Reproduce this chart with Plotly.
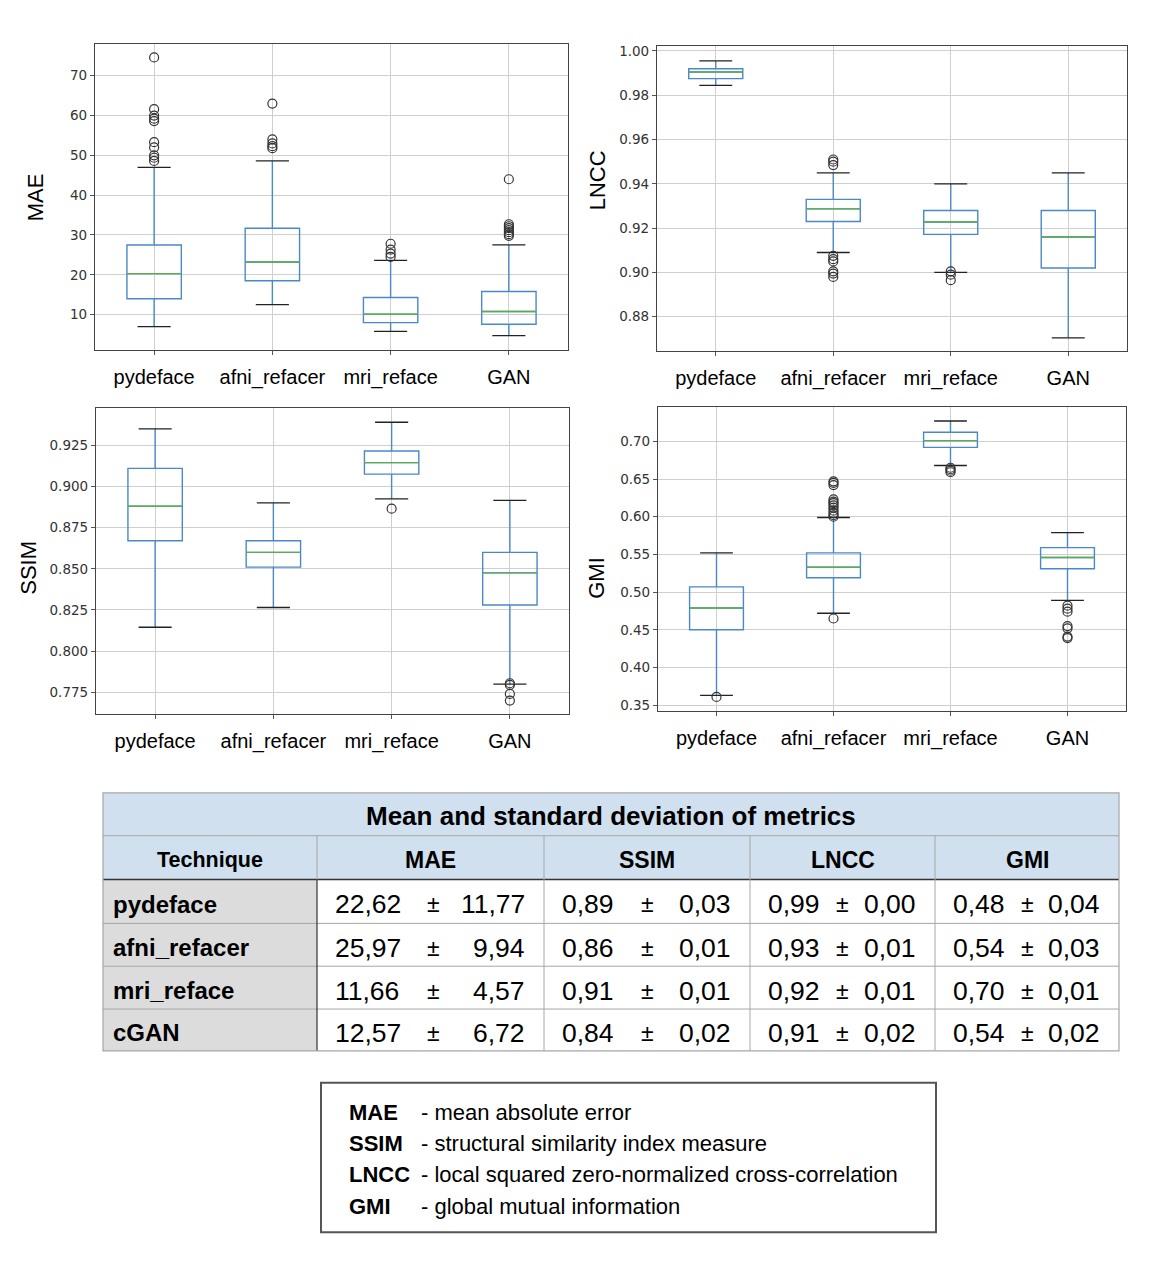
import plotly.graph_objects as go

# page geometry (reference pixel frame); the browser page has an 8px body margin
REF_W, REF_H = 1170, 1274
OFF = 8
W, H = REF_W - OFF, REF_H - OFF

# ---------------- data ----------------
techniques = ["pydeface", "afni_refacer", "mri_reface", "GAN"]
positions = [1, 2, 3, 4]

mae_low = [7.0, 12.5, 5.8, 4.7]
mae_q1 = [14.0, 18.5, 8.0, 7.6]
mae_med = [20.3, 23.2, 10.1, 10.8]
mae_q3 = [27.5, 31.7, 14.3, 15.8]
mae_high = [47.0, 48.6, 23.6, 27.5]
mae_out = [[48.6, 49.4, 50.0, 52.0, 53.3, 58.6, 59.2, 60.0, 61.6, 74.6],
           [51.8, 52.3, 53.0, 54.0, 63.0],
           [24.5, 25.3, 26.3, 27.8],
           [29.8, 30.2, 30.7, 31.2, 31.7, 32.2, 32.7, 44.0]]

lncc_low = [0.9845, 0.909, 0.900, 0.8705]
lncc_q1 = [0.9875, 0.923, 0.9172, 0.902]
lncc_med = [0.9905, 0.9287, 0.9228, 0.916]
lncc_q3 = [0.9920, 0.933, 0.928, 0.928]
lncc_high = [0.9955, 0.945, 0.940, 0.945]
lncc_out = [[],
            [0.9485, 0.9500, 0.9510, 0.9075, 0.9060, 0.9050, 0.9005, 0.8995, 0.8980],
            [0.9005, 0.8990, 0.8965],
            []]

ssim_low = [0.8145, 0.8265, 0.8925, 0.780]
ssim_q1 = [0.867, 0.851, 0.9075, 0.828]
ssim_med = [0.888, 0.860, 0.9145, 0.8475]
ssim_q3 = [0.911, 0.867, 0.9215, 0.860]
ssim_high = [0.935, 0.890, 0.939, 0.8915]
ssim_out = [[], [], [0.8865], [0.7805, 0.7795, 0.774, 0.770]]

gmi_low = [0.363, 0.472, 0.668, 0.489]
gmi_q1 = [0.450, 0.519, 0.692, 0.531]
gmi_med = [0.479, 0.533, 0.701, 0.546]
gmi_q3 = [0.507, 0.552, 0.712, 0.559]
gmi_high = [0.552, 0.599, 0.727, 0.579]
gmi_out = [[0.361],
           [0.465, 0.600, 0.602, 0.605, 0.608, 0.612, 0.615, 0.618, 0.620, 0.623, 0.642, 0.645, 0.647],
           [0.665, 0.663, 0.661, 0.659],
           [0.482, 0.478, 0.474, 0.455, 0.452, 0.441, 0.439]]

mae_ticks = [10, 20, 30, 40, 50, 60, 70]
lncc_ticks = [0.88, 0.90, 0.92, 0.94, 0.96, 0.98, 1.00]
ssim_ticks = [0.775, 0.800, 0.825, 0.850, 0.875, 0.900, 0.925]
gmi_ticks = [0.35, 0.40, 0.45, 0.50, 0.55, 0.60, 0.65, 0.70]

# table data
table_title = "Mean and standard deviation of metrics"
table_headers = ["Technique", "MAE", "SSIM", "LNCC", "GMI"]
table_techniques = ["pydeface", "afni_refacer", "mri_reface", "cGAN"]
mae_mean = [22.62, 25.97, 11.66, 12.57]
mae_sd = [11.77, 9.94, 4.57, 6.72]
ssim_mean = [0.89, 0.86, 0.91, 0.84]
ssim_sd = [0.03, 0.01, 0.01, 0.02]
lncc_mean = [0.99, 0.93, 0.92, 0.91]
lncc_sd = [0.00, 0.01, 0.01, 0.02]
gmi_mean = [0.48, 0.54, 0.70, 0.54]
gmi_sd = [0.04, 0.03, 0.01, 0.02]

legend_abbr = ["MAE", "SSIM", "LNCC", "GMI"]
legend_desc = ["- mean absolute error",
               "- structural similarity index measure",
               "- local squared zero-normalized cross-correlation",
               "- global mutual information"]

# ---------------- styling ----------------
BLUE = "#4a89c8"
GREEN = "#5cad4c"
CAP = "#222222"
GRID = "#cfcfcf"
FRAME = "#444444"
HEAD_BG = "#d0e0ef"
TECH_BG = "#dcdcdc"
TABLE_LINE = "#a6a6a6"
TXT_FONT = "Liberation Sans, Arial, sans-serif"
TABLE_FONT = "Liberation Sans, Arial, sans-serif"


def px_x(x):
    return (x - OFF) / W


def px_y(y):
    return 1 - (y - OFF) / H


panels = [
    dict(name="MAE", low=mae_low, q1=mae_q1, med=mae_med, q3=mae_q3, high=mae_high, out=mae_out,
         ticks=mae_ticks, fmt="d", rng=[1.2, 78.0], box=(95, 568, 41, 348), title_xy=(35, 195)),
    dict(name="LNCC", low=lncc_low, q1=lncc_q1, med=lncc_med, q3=lncc_q3, high=lncc_high, out=lncc_out,
         ticks=lncc_ticks, fmt=".2f", rng=[0.8647, 1.0023], box=(657, 1127, 43, 349), title_xy=(597, 178)),
    dict(name="SSIM", low=ssim_low, q1=ssim_q1, med=ssim_med, q3=ssim_q3, high=ssim_high, out=ssim_out,
         ticks=ssim_ticks, fmt=".3f", rng=[0.7617, 0.9474], box=(96, 569, 407, 714), title_xy=(29, 567)),
    dict(name="GMI", low=gmi_low, q1=gmi_q1, med=gmi_med, q3=gmi_q3, high=gmi_high, out=gmi_out,
         ticks=gmi_ticks, fmt=".2f", rng=[0.342, 0.745], box=(658, 1126, 406, 711), title_xy=(597, 577)),
]

fig = go.Figure()
layout = dict(width=W, height=H, autosize=False, margin=dict(l=0, r=0, t=0, b=0),
              paper_bgcolor="white", plot_bgcolor="white", showlegend=False)
annotations = []
shapes = []

BOX_HALF = 0.23
CAP_HALF = 0.14

for i, p in enumerate(panels):
    n = "" if i == 0 else str(i + 1)
    xa, ya = "x" + n, "y" + n
    x0, x1, y0, y1 = p["box"]
    fig.add_trace(go.Box(
        x=positions, q1=p["q1"], median=p["med"], q3=p["q3"],
        lowerfence=p["low"], upperfence=p["high"],
        width=2 * BOX_HALF, whiskerwidth=0, boxpoints=False,
        line=dict(color=BLUE, width=1.4), fillcolor="rgba(0,0,0,0)",
        xaxis=xa, yaxis=ya, hoverinfo="skip"))
    mx, my, cx, cy = [], [], [], []
    for pos, m, lo, hi in zip(positions, p["med"], p["low"], p["high"]):
        mx += [pos - BOX_HALF, pos + BOX_HALF, None]
        my += [m, m, None]
        cx += [pos - CAP_HALF, pos + CAP_HALF, None, pos - CAP_HALF, pos + CAP_HALF, None]
        cy += [lo, lo, None, hi, hi, None]
    fig.add_trace(go.Scatter(x=cx, y=cy, mode="lines", line=dict(color=CAP, width=1.3),
                             xaxis=xa, yaxis=ya, hoverinfo="skip"))
    fig.add_trace(go.Scatter(x=mx, y=my, mode="lines", line=dict(color=GREEN, width=1.4),
                             xaxis=xa, yaxis=ya, hoverinfo="skip"))
    ox, oy = [], []
    for pos, vals in zip(positions, p["out"]):
        ox += [pos] * len(vals)
        oy += vals
    fig.add_trace(go.Scatter(x=ox, y=oy, mode="markers",
                             marker=dict(symbol="circle-open", size=9, color="#333333",
                                         line=dict(width=1.2, color="#333333")),
                             xaxis=xa, yaxis=ya, hoverinfo="skip"))
    common = dict(showgrid=True, gridcolor=GRID, gridwidth=1.3, zeroline=False,
                  showline=True, linecolor=FRAME, linewidth=1.2, mirror=True,
                  ticks="outside", tickcolor="#555555", ticklen=4)
    layout["xaxis" + n] = dict(common, domain=[px_x(x0), px_x(x1)], range=[0.5, 4.5],
                               tickvals=positions, ticktext=techniques,
                               tickfont=dict(family=TXT_FONT, size=20, color="black"),
                               ticklabelstandoff=5, anchor=ya)
    layout["yaxis" + n] = dict(common, domain=[px_y(y1), px_y(y0)], range=p["rng"],
                               tickvals=p["ticks"], tickformat=p["fmt"],
                               tickfont=dict(family="DejaVu Sans, sans-serif", size=13.5, color="#333333"),
                               anchor=xa)
    tx, ty = p["title_xy"]
    annotations.append(dict(x=px_x(tx), y=px_y(ty), xref="paper", yref="paper",
                            text=p["name"], textangle=-90, showarrow=False,
                            font=dict(family=TXT_FONT, size=22, color="black"),
                            xanchor="center", yanchor="middle"))

# ---------------- table ----------------
cols_x = [103, 317, 544, 750, 935, 1119]
rows_y = [793, 836, 880, 924, 967, 1010, 1052]


def rect(x0, y0, x1, y1, fill=None, line=None, width=1):
    d = dict(type="rect", xref="paper", yref="paper",
             x0=px_x(x0), x1=px_x(x1), y0=px_y(y1), y1=px_y(y0), layer="below")
    d["fillcolor"] = fill if fill else "rgba(0,0,0,0)"
    d["line"] = dict(color=line, width=width) if line else dict(width=0)
    return d


def hline(x0, x1, y, color, width=1):
    return dict(type="line", xref="paper", yref="paper", x0=px_x(x0), x1=px_x(x1),
                y0=px_y(y), y1=px_y(y), line=dict(color=color, width=width))


def vline(x, y0, y1, color, width=1):
    return dict(type="line", xref="paper", yref="paper", x0=px_x(x), x1=px_x(x),
                y0=px_y(y0), y1=px_y(y1), line=dict(color=color, width=width))


shapes.append(rect(cols_x[0], rows_y[0], cols_x[-1], rows_y[2], fill=HEAD_BG))
shapes.append(rect(cols_x[0], rows_y[2], cols_x[1], rows_y[-1], fill=TECH_BG))
shapes.append(hline(cols_x[0], cols_x[-1], rows_y[1], TABLE_LINE))
shapes.append(hline(cols_x[0], cols_x[-1], rows_y[2], "#333333", 1.5))
for ry in rows_y[3:-1]:
    shapes.append(hline(cols_x[0], cols_x[-1], ry, TABLE_LINE))
for cx_ in cols_x[2:-1]:
    shapes.append(vline(cx_, rows_y[1], rows_y[-1], TABLE_LINE))
shapes.append(vline(cols_x[1], rows_y[1], rows_y[2], TABLE_LINE))
shapes.append(vline(cols_x[1], rows_y[2], rows_y[-1], "#333333", 1.2))
shapes.append(dict(type="rect", xref="paper", yref="paper",
                   x0=px_x(cols_x[0]), x1=px_x(cols_x[-1]), y0=px_y(rows_y[-1]), y1=px_y(rows_y[0]),
                   line=dict(color=TABLE_LINE, width=1.2), fillcolor="rgba(0,0,0,0)"))


def text(x, y, s, size, bold=False, anchor="center", family=TABLE_FONT, color="black"):
    annotations.append(dict(x=px_x(x), y=px_y(y), xref="paper", yref="paper",
                            text=f"<b>{s}</b>" if bold else s, showarrow=False,
                            font=dict(family=family, size=size, color=color),
                            xanchor=anchor, yanchor="middle"))


text((cols_x[0] + cols_x[-1]) / 2, (rows_y[0] + rows_y[1]) / 2 + 2, table_title, 26, bold=True)
for j, hname in enumerate(table_headers):
    text((cols_x[j] + cols_x[j + 1]) / 2, (rows_y[1] + rows_y[2]) / 2 + 2, hname,
         23 if j else 21.5, bold=True)

fmt = lambda v: f"{v:.2f}".replace(".", ",")
metric_means = [mae_mean, ssim_mean, lncc_mean, gmi_mean]
metric_sds = [mae_sd, ssim_sd, lncc_sd, gmi_sd]
pm_x = [434, 647, 842, 1027]
for r, tech in enumerate(table_techniques):
    cy_ = (rows_y[r + 2] + rows_y[r + 3]) / 2 + 3
    text(111, cy_, tech, 24, bold=True, anchor="left")
    for k in range(4):
        text(cols_x[k + 1] + 16, cy_, fmt(metric_means[k][r]), 26.5, anchor="left")
        text(pm_x[k], cy_, "±", 23)
        text(cols_x[k + 2] - 17, cy_, fmt(metric_sds[k][r]), 26.5, anchor="right")

# ---------------- legend box ----------------
shapes.append(dict(type="rect", xref="paper", yref="paper",
                   x0=px_x(321), x1=px_x(936), y0=px_y(1234), y1=px_y(1084),
                   line=dict(color="#555555", width=2), fillcolor="rgba(0,0,0,0)"))
leg_y = [1114, 1145, 1176, 1208]
for ab, ds, ly in zip(legend_abbr, legend_desc, leg_y):
    text(347, ly, ab, 22, bold=True, anchor="left", family=TXT_FONT)
    text(419, ly, ds, 22, anchor="left", family=TXT_FONT)

layout["annotations"] = annotations
layout["shapes"] = shapes
fig.update_layout(**layout)
fig.write_html("out.html")
